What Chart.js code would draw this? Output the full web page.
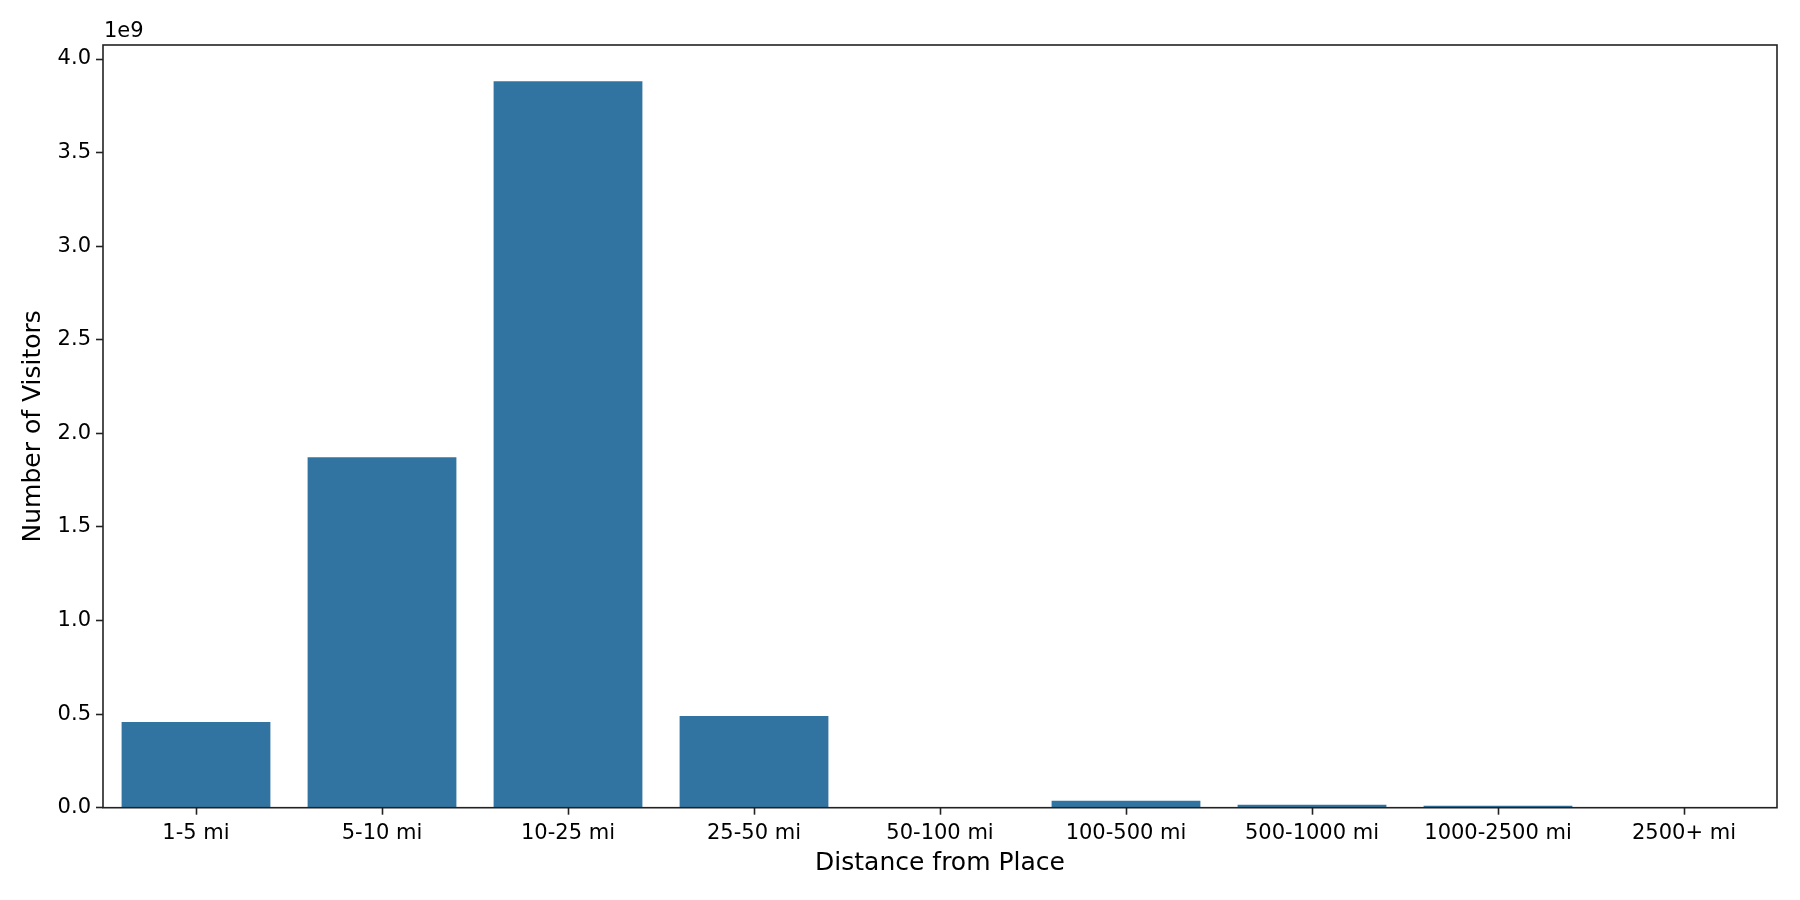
<!DOCTYPE html>
<html>
<head>
<meta charset="utf-8">
<script src="https://cdn.jsdelivr.net/npm/chart.js@4.4.1/dist/chart.umd.min.js"></script>
<style>
html,body{margin:0;padding:0;background:#fff;}
canvas{display:block;}
</style>
</head>
<body>
<canvas id="c" width="1800" height="900"></canvas>
<script>
const categories = ["1-5 mi","5-10 mi","10-25 mi","25-50 mi","50-100 mi","100-500 mi","500-1000 mi","1000-2500 mi","2500+ mi"];
const visitors = [0.458e9, 1.873e9, 3.881e9, 0.490e9, 0.002e9, 0.037e9, 0.016e9, 0.010e9, 0.0003e9];
const yTicks = [0, 0.5e9, 1.0e9, 1.5e9, 2.0e9, 2.5e9, 3.0e9, 3.5e9, 4.0e9];
const yTickLabels = ["0.0","0.5","1.0","1.5","2.0","2.5","3.0","3.5","4.0"];
const yMax = 4.075e9;
const xTitle = "Distance from Place";
const yTitle = "Number of Visitors";
const offsetText = "1e9";

const FONT = "DejaVu Sans";
const AXIS = "#222222";

const framePlugin = {
  id: "frame",
  afterDatasetsDraw(chart) {
    const {ctx, chartArea: a} = chart;
    ctx.save();
    ctx.strokeStyle = AXIS;
    ctx.lineWidth = 1.6;
    ctx.strokeRect(a.left, a.top, a.right - a.left, a.bottom - a.top);
    ctx.restore();
  },
  afterDraw(chart) {
    const {ctx, chartArea: a} = chart;
    ctx.save();
    ctx.fillStyle = "#000";
    ctx.font = "21px '" + FONT + "'";
    ctx.textBaseline = "alphabetic";
    ctx.textAlign = "left";
    ctx.fillText(offsetText, a.left + 1, a.top - 8);
    ctx.restore();
  }
};

new Chart(document.getElementById("c"), {
  type: "bar",
  data: {
    labels: categories,
    datasets: [{
      data: visitors,
      backgroundColor: "#3274a1",
      borderWidth: 0,
      barPercentage: 0.8,
      categoryPercentage: 1.0
    }]
  },
  options: {
    responsive: false,
    devicePixelRatio: 1,
    animation: false,
    layout: { padding: { top: 45, right: 23, left: 0, bottom: 0 } },
    plugins: { legend: { display: false }, tooltip: { enabled: false } },
    scales: {
      x: {
        offset: true,
        grid: { display: true, offset: false, drawOnChartArea: false, drawTicks: true, tickLength: 7, tickWidth: 1.6, tickColor: AXIS },
        border: { display: false },
        ticks: { color: "#000", font: { family: FONT, size: 21 }, padding: 6, maxRotation: 0, autoSkip: false },
        title: { display: true, text: xTitle, color: "#000", font: { family: FONT, size: 25, lineHeight: 1 }, padding: { top: 0, bottom: 24 } },
        afterFit(s) { s.height = 92.3; }
      },
      y: {
        min: 0,
        max: yMax,
        afterBuildTicks(s) { s.ticks = yTicks.map(v => ({ value: v })); },
        grid: { display: true, drawOnChartArea: false, drawTicks: true, tickLength: 7, tickWidth: 1.6, tickColor: AXIS },
        border: { display: false },
        ticks: {
          color: "#000",
          font: { family: FONT, size: 21 },
          padding: 5,
          callback: (v, i) => yTickLabels[i]
        },
        title: { display: true, text: yTitle, color: "#000", font: { family: FONT, size: 25, lineHeight: 1 }, padding: { top: 21, bottom: 0 } },
        afterFit(s) { s.width = 103; }
      }
    }
  },
  plugins: [framePlugin]
});
</script>
</body>
</html>
